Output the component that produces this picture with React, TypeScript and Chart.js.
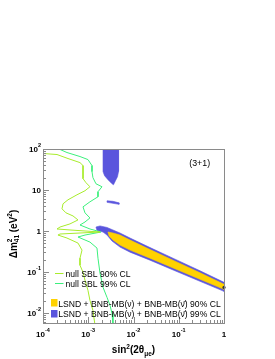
import React, { useEffect, useRef } from 'react';
import { Chart, registerables } from 'chart.js';

Chart.register(...registerables);

const X_MIN = 1e-4;
const X_MAX = 1;
const Y_MIN = 0.0057;
const Y_MAX = 100;
const xTickExps = [-4, -3, -2, -1, 0];
const yTickExps = [-2, -1, 0, 1, 2];

// null SBL 90% CL contour
const null90X = [1e-4, 1.43e-4, 2.04e-4, 3.57e-4, 6.57e-4, 7.66e-4, 7.66e-4, 7.66e-4, 8.91e-4, 1.09e-3, 8.48e-4, 5.64e-4, 3.57e-4, 2.77e-4, 2.63e-4, 3.22e-4, 4.6e-4, 5.93e-4, 3.95e-4, 2.38e-4, 2.04e-4, 3.95e-4, 8.48e-4, 1.82e-3, 6.57e-4, 2.38e-4, 2.14e-4, 3.39e-4, 5.93e-4, 7.28e-4, 6.57e-4, 6.57e-4, 7.66e-4, 8.48e-4, 9.86e-4, 1.09e-3, 1.27e-3, 1.41e-3];
const null90Y = [77.6, 75.4, 73.3, 58.5, 46.6, 39.4, 28.1, 18.9, 15.1, 12.0, 9.59, 7.64, 5.77, 4.6, 3.47, 2.77, 2.33, 1.86, 1.49, 1.25, 1.12, 1.06, 1.0, 0.944, 0.893, 0.844, 0.797, 0.673, 0.508, 0.342, 0.217, 0.146, 0.0986, 0.0628, 0.0356, 0.0203, 0.0115, 0.005];

// null SBL 99% CL contour
const null99X = [2.04e-4, 3.39e-4, 6.57e-4, 9.86e-4, 1.21e-3, 1.21e-3, 1.27e-3, 1.48e-3, 2.01e-3, 1.64e-3, 1.64e-3, 1.09e-3, 7.66e-4, 8.48e-4, 1.09e-3, 8.48e-4, 6.57e-4, 1.09e-3, 1.91e-3, 8.48e-4, 5.93e-4, 1.09e-3, 1.56e-3, 1.64e-3, 1.82e-3, 2.12e-3, 2.6e-3, 3.03e-3, 3.35e-3, 3.52e-3];
const null99Y = [105, 82.0, 65.5, 55.2, 39.4, 28.1, 20.0, 14.2, 12.0, 9.06, 6.83, 5.15, 3.88, 2.77, 2.08, 1.66, 1.4, 1.12, 0.944, 0.797, 0.713, 0.537, 0.383, 0.217, 0.0931, 0.0423, 0.024, 0.0153, 0.00973, 0.005];

// LSND + BNB-MB 99% CL allowed regions
const blob99X = [2.12e-3, 4.67e-3, 4.67e-3, 4.43e-3, 4.0e-3, 3.61e-3, 3.35e-3, 2.73e-3, 2.29e-3, 2.12e-3, 2.12e-3];
const blob99Y = [110, 110, 28.1, 21.1, 16.9, 13.4, 14.2, 17.8, 22.4, 28.1, 110];
const dash99X = [2.6e-3, 3.52e-3, 4.78e-3, 4.78e-3, 3.52e-3, 2.6e-3, 2.6e-3];
const dash99Y = [5.45, 5.3, 4.86, 4.47, 4.73, 5.0, 5.45];
const band99X = [1.48e-3, 1.82e-3, 2.6e-3, 5.03e-3, 8.38e-3, 0.0232, 0.0826, 0.295, 1, 1, 0.295, 0.0826, 0.0232, 8.38e-3, 5.03e-3, 3.35e-3, 2.6e-3, 2.12e-3, 1.56e-3, 1.48e-3];
const band99Y = [1.25, 1.33, 1.22, 0.893, 0.673, 0.394, 0.206, 0.107, 0.056, 0.0337, 0.0593, 0.107, 0.194, 0.305, 0.405, 0.569, 0.797, 0.944, 1.03, 1.25];

// LSND + BNB-MB 90% CL allowed region
const band90X = [2.73e-3, 3.52e-3, 5.03e-3, 8.38e-3, 0.0232, 0.0826, 0.295, 1, 1, 0.295, 0.0826, 0.0232, 8.38e-3, 5.03e-3, 3.52e-3, 2.88e-3, 2.73e-3];
const band90Y = [0.944, 0.893, 0.797, 0.601, 0.352, 0.184, 0.0959, 0.05, 0.0377, 0.0664, 0.12, 0.217, 0.342, 0.453, 0.601, 0.754, 0.944];

const bestFitX = [1];
const bestFitY = [0.042];

const C90 = '#a8ec2c';
const C99 = '#3cf07c';
const BLUE = '#5a55dd';
const YELLOW = '#ffd200';
const FRAME = '#8a8a8a';
const FONT = "'Liberation Sans', Arial, Helvetica, sans-serif";

const pts = (xs: number[], ys: number[]) => xs.map((x, i) => ({ x, y: ys[i] }));

type Part = { t: string; s: number; dy: number; adv?: boolean };

function drawRich(ctx: CanvasRenderingContext2D, parts: Part[], x: number, y: number, align: string, weight: string) {
  const widths = parts.map((p) => {
    ctx.font = `${weight} ${p.s}px ${FONT}`;
    return ctx.measureText(p.t).width;
  });
  let total = 0;
  let pending = 0;
  parts.forEach((p, i) => {
    if (p.adv === false) {
      pending = Math.max(pending, widths[i]);
    } else {
      total += Math.max(pending, widths[i]);
      pending = 0;
    }
  });
  total += pending;
  let cx = align === 'left' ? x : align === 'center' ? x - total / 2 : x - total;
  ctx.textAlign = 'left';
  ctx.textBaseline = 'alphabetic';
  pending = 0;
  parts.forEach((p, i) => {
    ctx.font = `${weight} ${p.s}px ${FONT}`;
    ctx.fillText(p.t, cx, y + p.dy);
    if (p.adv === false) {
      pending = Math.max(pending, widths[i]);
    } else {
      cx += Math.max(pending, widths[i]);
      pending = 0;
    }
  });
}

const overlay = {
  id: 'overlay',
  afterDraw(chart: any) {
    const { ctx, chartArea: a, scales } = chart;
    const xs = scales.x;
    const ys = scales.y;
    ctx.save();
    // frame
    ctx.strokeStyle = FRAME;
    ctx.lineWidth = 1;
    ctx.strokeRect(a.left + 0.5, a.top + 0.5, a.right - a.left, a.bottom - a.top);
    // ticks
    ctx.beginPath();
    for (let e = -4; e <= 0; e++) {
      for (let k = 1; k <= 9; k++) {
        const v = k * Math.pow(10, e);
        if (v < X_MIN || v > X_MAX) continue;
        const px = Math.round(xs.getPixelForValue(v)) + 0.5;
        const len = k === 1 ? 6 : 3;
        ctx.moveTo(px, a.bottom);
        ctx.lineTo(px, a.bottom - len);
      }
    }
    for (let e = -3; e <= 2; e++) {
      for (let k = 1; k <= 9; k++) {
        const v = k * Math.pow(10, e);
        if (v < Y_MIN || v > Y_MAX) continue;
        const py = Math.round(ys.getPixelForValue(v)) + 0.5;
        const len = k === 1 ? 6 : 3;
        ctx.moveTo(a.left, py);
        ctx.lineTo(a.left + len, py);
      }
    }
    ctx.stroke();

    ctx.fillStyle = '#000';
    // x tick labels
    xTickExps.forEach((e) => {
      const px = xs.getPixelForValue(Math.pow(10, e));
      const parts: Part[] = e === 0 ? [{ t: '1', s: 8, dy: 0 }] : e === 1 ? [{ t: '10', s: 8, dy: 0 }] : [{ t: '10', s: 8, dy: 0 }, { t: String(e), s: 5.5, dy: -5 }];
      drawRich(ctx, parts, px, a.bottom + 13.5, 'center', 'bold');
    });
    // y tick labels
    yTickExps.forEach((e) => {
      const py = ys.getPixelForValue(Math.pow(10, e));
      const parts: Part[] = e === 0 ? [{ t: '1', s: 8, dy: 0 }] : e === 1 ? [{ t: '10', s: 8, dy: 0 }] : [{ t: '10', s: 8, dy: 0 }, { t: String(e), s: 5.5, dy: -5 }];
      drawRich(ctx, parts, a.left - 2, py + 3, 'right', 'bold');
    });
    // x title
    drawRich(ctx, [
      { t: 'sin', s: 10, dy: 0 },
      { t: '2', s: 6.5, dy: -4.5 },
      { t: '(2θ', s: 10, dy: 0 },
      { t: 'μe', s: 6.5, dy: 2.5 },
      { t: ')', s: 10, dy: 0 },
    ], 133.5, 353, 'center', 'bold');
    // y title
    ctx.save();
    ctx.translate(16.5, 234);
    ctx.rotate(-Math.PI / 2);
    drawRich(ctx, [
      { t: 'Δm', s: 10, dy: 0 },
      { t: '2', s: 6.5, dy: -4.5, adv: false },
      { t: '41', s: 6.5, dy: 2.5 },
      { t: ' (eV', s: 10, dy: 0 },
      { t: '2', s: 6.5, dy: -4.5 },
      { t: ')', s: 10, dy: 0 },
    ], 0, 0, 'center', 'bold');
    ctx.restore();

    // (3+1)
    ctx.font = `8.8px ${FONT}`;
    ctx.textAlign = 'left';
    ctx.fillText('(3+1)', 189.3, 165.5);

    // legend
    ctx.lineWidth = 1;
    ctx.strokeStyle = C90;
    ctx.beginPath();
    ctx.moveTo(55, 273.5);
    ctx.lineTo(63.5, 273.5);
    ctx.stroke();
    ctx.strokeStyle = C99;
    ctx.beginPath();
    ctx.moveTo(55, 283.5);
    ctx.lineTo(63.5, 283.5);
    ctx.stroke();
    ctx.fillStyle = YELLOW;
    ctx.fillRect(51, 299, 6.5, 7.5);
    ctx.fillStyle = BLUE;
    ctx.fillRect(51, 310, 6.5, 7.5);
    ctx.fillStyle = '#000';
    ctx.font = `8.6px ${FONT}`;
    ctx.fillText('null SBL 90% CL', 65.5, 276.5);
    ctx.fillText('null SBL 99% CL', 65.5, 286.5);
    ctx.fillText('LSND + BNB-MB(ν) + BNB-MB(ν\u0304) 90% CL', 58.3, 306.5);
    ctx.fillText('LSND + BNB-MB(ν) + BNB-MB(ν\u0304) 99% CL', 58.3, 317);
    ctx.restore();
  },
};

export default function App() {
  const ref = useRef<HTMLCanvasElement>(null);
  useEffect(() => {
    if (!ref.current) return;
    const region = (xs: number[], ys: number[], color: string, order: number) => ({
      data: pts(xs, ys),
      showLine: true,
      fill: 'shape',
      backgroundColor: color,
      borderColor: color,
      borderWidth: 0.6,
      pointRadius: 0,
      tension: 0,
      order,
    });
    const chart = new Chart(ref.current, {
      type: 'line',
      data: {
        datasets: [
          {
            label: 'best fit',
            data: pts(bestFitX, bestFitY),
            showLine: false,
            pointRadius: 1.6,
            pointBackgroundColor: '#333',
            pointBorderWidth: 0,
            clip: false,
            order: 0,
          } as any,
          {
            label: 'null SBL 90% CL',
            data: pts(null90X, null90Y),
            borderColor: C90,
            borderWidth: 1,
            pointRadius: 0,
            tension: 0,
            fill: false,
            order: 1,
          },
          {
            label: 'null SBL 99% CL',
            data: pts(null99X, null99Y),
            borderColor: C99,
            borderWidth: 1,
            pointRadius: 0,
            tension: 0,
            fill: false,
            order: 1,
          },
          { label: '90% CL', ...region(band90X, band90Y, YELLOW, 2) } as any,
          { label: '99% CL band', ...region(band99X, band99Y, BLUE, 3) } as any,
          { label: '99% CL high', ...region(blob99X, blob99Y, BLUE, 3) } as any,
          { label: '99% CL island', ...region(dash99X, dash99Y, BLUE, 3) } as any,
        ],
      },
      options: {
        animation: false,
        responsive: false,
        devicePixelRatio: 1,
        events: [],
        layout: { padding: { left: 43, top: 149, right: 51, bottom: 36 } },
        plugins: { legend: { display: false }, tooltip: { enabled: false } },
        scales: {
          x: { type: 'logarithmic', min: X_MIN, max: X_MAX, display: false },
          y: { type: 'logarithmic', min: Y_MIN, max: Y_MAX, display: false },
        },
      },
      plugins: [overlay],
    } as any);
    return () => chart.destroy();
  }, []);
  return (
    <div style={{ position: 'absolute', left: 0, top: 0, width: 275, height: 359, background: '#fff' }}>
      <canvas ref={ref} width={275} height={359} style={{ display: 'block', width: 275, height: 359 }} />
    </div>
  );
}
